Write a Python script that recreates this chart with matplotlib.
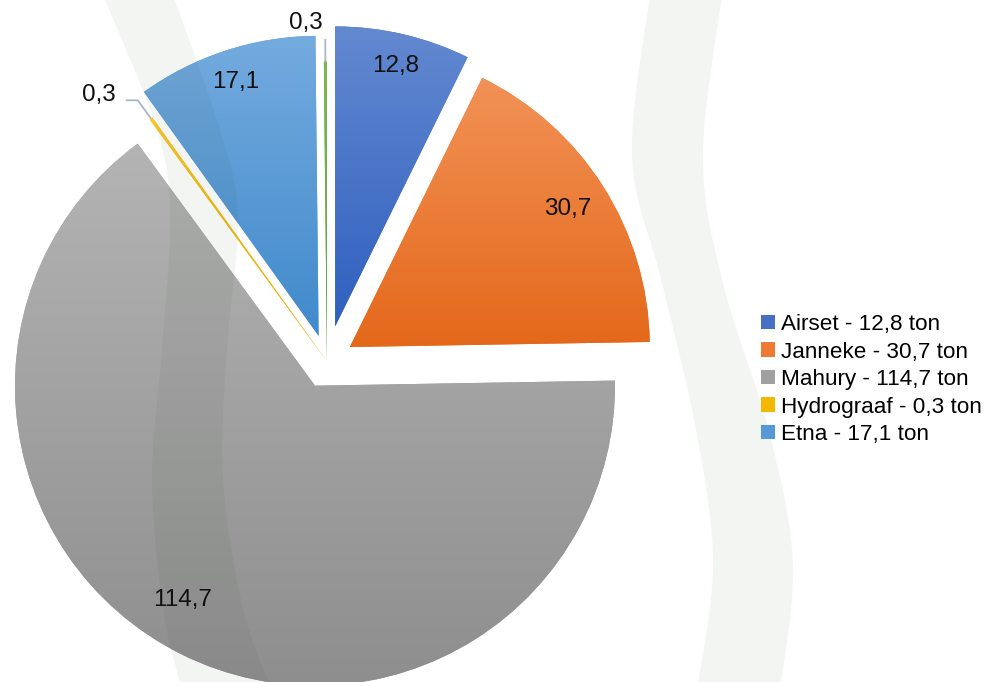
import numpy as np
import matplotlib
matplotlib.use('Agg')
import matplotlib.pyplot as plt
from matplotlib.patches import Polygon, Patch
from matplotlib.colors import LinearSegmentedColormap

# ---------------- data ----------------
categories = ['Airset', 'Janneke', 'Mahury', 'Hydrograaf', 'Etna', '']
values = [12.8, 30.7, 114.7, 0.3, 17.1, 0.3]
value_labels = ['12,8', '30,7', '114,7', '0,3', '17,1', '0,3']
legend_labels = ['Airset - 12,8 ton', 'Janneke - 30,7 ton', 'Mahury - 114,7 ton',
                 'Hydrograaf - 0,3 ton', 'Etna - 17,1 ton']

# ---------------- style ----------------
top_colors = ['#6389d0', '#f29257', '#b4b4b4', '#ffc72a', '#74abdf', '#7cb855']
bottom_colors = ['#2f60bf', '#e4681a', '#8e8e8e', '#e2a900', '#418acb', '#5f9e3a']
legend_colors = ['#4670c6', '#ee7a33', '#a0a0a0', '#f5b800', '#5699d6']
explode = [36, 27, 27, 0, 27, 0]
label_frac = [0.89, 0.86, 0.84, 1.17, 0.89, 1.13]
label_dang = [0, 0, -5.3, 4.7, 0, 3.3]

plt.rcParams['font.family'] = ['Liberation Sans', 'DejaVu Sans']

W, H = 998, 682
fig = plt.figure(figsize=(W / 100, H / 100), dpi=100)
ax = fig.add_axes([0, 0, 1, 1])
cx, cy = 327.0, H - 361.5
R = 300.0

wedges, _ = ax.pie(values, radius=R, center=(cx, cy), startangle=90,
                   counterclock=False, explode=explode,
                   colors=legend_colors + ['#70ad47'],
                   wedgeprops=dict(linewidth=0))

# gradient fills (top lighter, bottom darker), clipped to each wedge
grad = np.linspace(0, 1, 256).reshape(-1, 1)
for w, ct, cb in zip(wedges, top_colors, bottom_colors):
    v = w.get_path().vertices
    x0, x1 = v[:, 0].min(), v[:, 0].max()
    y0, y1 = v[:, 1].min(), v[:, 1].max()
    cmap = LinearSegmentedColormap.from_list('g', [cb, ct])
    im = ax.imshow(grad, cmap=cmap, extent=(x0, x1, y0, y1), origin='lower',
                   aspect='auto', interpolation='bilinear', zorder=2)
    im.set_clip_path(w)
    w.set_zorder(1)

# data labels
for i, (w, lab) in enumerate(zip(wedges, value_labels)):
    thm = 0.5 * (w.theta1 + w.theta2)
    if explode[i] == 0:
        ox, oy = cx, cy
    else:
        ox, oy = w.center
    ang = np.deg2rad(thm + label_dang[i])
    tx = ox + label_frac[i] * R * np.cos(ang)
    ty = oy + label_frac[i] * R * np.sin(ang)
    ax.text(tx, ty, lab, ha='center', va='center', fontsize=17.5, color='#111111', zorder=6)

# leader lines for the two tiny slices
lc = '#a9b5c9'
for i in (3, 5):
    w = wedges[i]
    thm = np.deg2rad(0.5 * (w.theta1 + w.theta2))
    px = [cx + R * np.cos(thm), cx + 1.075 * R * np.cos(thm)]
    py = [cy + R * np.sin(thm), cy + 1.075 * R * np.sin(thm)]
    if i == 3:
        px.append(px[-1] - 12)
        py.append(py[-1])
    ax.plot(px, py, color=lc, lw=1.3, zorder=4, solid_capstyle='butt')

# decorative background bands (drawn as a faint translucent overlay)
def catmull(pts, n=30):
    pts = np.asarray(pts, float)
    P = np.vstack([pts[0], pts, pts[-1]])
    out = []
    for k in range(1, len(P) - 2):
        p0, p1, p2, p3 = P[k - 1], P[k], P[k + 1], P[k + 2]
        t = np.linspace(0, 1, n, endpoint=False)[:, None]
        out.append(0.5 * ((2 * p1) + (-p0 + p2) * t + (2 * p0 - 5 * p1 + 4 * p2 - p3) * t ** 2
                          + (-p0 + 3 * p1 - 3 * p2 + p3) * t ** 3))
    out.append(P[-2][None, :])
    return np.vstack(out)

bands = [
    ([(103, -5), (157, 130), (170, 217), (162, 348), (152, 478), (163, 609), (182, 690)],
     [(173, -5), (220, 130), (238, 217), (227, 348), (223, 478), (243, 609), (272, 690)]),
    ([(650, -5), (632, 157), (662, 283), (697, 435), (713, 565), (697, 690)],
     [(722, -5), (703, 157), (723, 283), (770, 435), (793, 565), (780, 690)]),
]
for left, right in bands:
    L = catmull(left)
    Rr = catmull(right)[::-1]
    poly = np.vstack([L, Rr])
    poly[:, 1] = H - poly[:, 1]
    ax.add_patch(Polygon(poly, closed=True, facecolor=(0.12, 0.24, 0.12),
                         alpha=0.05, edgecolor='none', zorder=3))

# legend
handles = [Patch(facecolor=c, edgecolor='none') for c in legend_colors]
ax.legend(handles, legend_labels, loc='upper left',
          bbox_to_anchor=(761 / W, (H - 314) / H), frameon=False, fontsize=16.2,
          handlelength=0.6, handleheight=0.6, handletextpad=0.3,
          labelspacing=0.29, borderpad=0, borderaxespad=0)

ax.set_xlim(0, W)
ax.set_ylim(0, H)
ax.set_aspect('auto')
ax.axis('off')
fig.savefig('out.png', dpi=100, facecolor='white')
